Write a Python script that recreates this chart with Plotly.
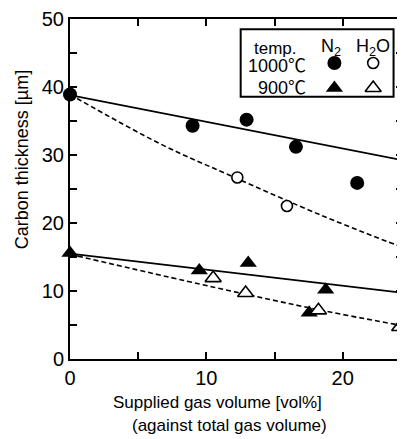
import plotly.graph_objects as go

# ---- data ----
n2_1000_x = [0, 8.99, 12.95, 16.57, 21.06]
n2_1000_y = [38.9, 34.3, 35.2, 31.2, 25.9]
h2o_1000_x = [12.27, 15.91]
h2o_1000_y = [26.7, 22.5]
n2_900_x = [0, 9.48, 13.07, 17.54, 18.75]
n2_900_y = [15.6, 13.0, 14.1, 6.8, 10.2]
h2o_900_x = [10.5, 12.88, 18.22, 24.18]
h2o_900_y = [11.9, 9.7, 7.15, 4.7]

# fitted trend lines
fit_n2_1000_x = [0, 25]
fit_n2_1000_y = [38.8, 29.0]
fit_h2o_1000_x = [0, 6.56, 11.66, 18.59, 24.42, 25]
fit_h2o_1000_y = [38.9, 31.7, 27.06, 21.0, 16.4, 16.0]
fit_n2_900_x = [0, 25]
fit_n2_900_y = [15.5, 9.6]
fit_h2o_900_x = [0, 10.45, 18.59, 24.42, 25]
fit_h2o_900_y = [15.4, 10.6, 7.1, 4.9, 4.7]

x_ticks = [0, 10, 20]
x_ticktext = ["0", "10", "20"]
y_ticks = [0, 10, 20, 30, 40, 50]
y_ticktext = ["0", "10", "20", "30", "40", "50"]

# legend key rows / columns (reference pixel positions)
legend_col_x = [336, 375]
legend_row_y = [63, 88]

FONT = "Liberation Sans, Arial, Noto Sans CJK JP, sans-serif"

# the page body has an 8px margin; compensate so the chart lands where the reference is
OFF = 8
FIG_W, FIG_H = 405 - OFF, 439 - OFF
L, T, W, H = 70, 19, 335, 340   # plot area in reference pixels

fig = go.Figure()

def line(x, y, dash):
    fig.add_trace(go.Scatter(x=x, y=y, mode="lines",
                             line=dict(color="black", width=1.8 if dash == "solid" else 1.6,
                                       dash=dash, shape="spline" if len(x) > 2 else "linear"),
                             showlegend=False, hoverinfo="skip"))

line(fit_n2_1000_x, fit_n2_1000_y, "solid")
line(fit_h2o_1000_x, fit_h2o_1000_y, "5px,3px")
line(fit_n2_900_x, fit_n2_900_y, "solid")
line(fit_h2o_900_x, fit_h2o_900_y, "5px,3px")

STY = {
    "n2_1000": dict(symbol="circle", size=14, color="black"),
    "h2o_1000": dict(symbol="circle", size=11, color="white", line=dict(color="black", width=1.6)),
    "n2_900": dict(symbol="triangle-up", size=15, color="black"),
    "h2o_900": dict(symbol="triangle-up", size=14, color="white", line=dict(color="black", width=1.6)),
}

for xs, ys, key in [(n2_1000_x, n2_1000_y, "n2_1000"), (h2o_1000_x, h2o_1000_y, "h2o_1000"),
                    (n2_900_x, n2_900_y, "n2_900"), (h2o_900_x, h2o_900_y, "h2o_900")]:
    fig.add_trace(go.Scatter(x=xs, y=ys, mode="markers", marker=STY[key],
                             showlegend=False, cliponaxis=False))

def px(x):
    return (x - L) / W
def py(y):
    return (T + H - y) / H

# legend box (below traces so the key markers show on top of it)
fig.add_shape(type="rect", xref="paper", yref="paper",
              x0=px(241.7), x1=px(395.5), y0=py(96.7), y1=py(29.3),
              line=dict(color="black", width=2), fillcolor="white", layer="below")

# legend keys on an invisible overlay axis in reference pixel units
for key, cx, cy in [("n2_1000", legend_col_x[0], legend_row_y[0]),
                    ("h2o_1000", legend_col_x[1], legend_row_y[0]),
                    ("n2_900", legend_col_x[0], legend_row_y[1]),
                    ("h2o_900", legend_col_x[1], legend_row_y[1])]:
    fig.add_trace(go.Scatter(x=[cx], y=[cy], mode="markers", marker=STY[key],
                             xaxis="x2", yaxis="y2", showlegend=False, hoverinfo="skip"))

def ann(text, x, y, size=18, xanchor="center", angle=0):
    fig.add_annotation(text=text, xref="paper", yref="paper", x=px(x), y=py(y),
                       xanchor=xanchor, yanchor="middle", showarrow=False,
                       textangle=angle, font=dict(family=FONT, size=size, color="black"))

ann("temp.", 277, 48, size=17)
ann("N<sub>2</sub>", 333, 47)
ann("H<sub>2</sub>O", 375, 47)
ann("1000℃", 309, 66, xanchor="right")
ann("900℃", 309, 88, xanchor="right")

# axis titles
ann("Supplied gas volume [vol%]", 218, 402, size=17)
ann("(against total gas volume)", 230, 425, size=17)
ann("Carbon thickness [µm]", 22, 160, size=18, angle=-90)

axis_common = dict(showline=True, linecolor="black", linewidth=2, mirror="ticks",
                   ticks="inside", ticklen=7, tickwidth=1.5, tickcolor="black",
                   showgrid=False, zeroline=False,
                   tickfont=dict(family=FONT, size=20, color="black"),
                   minor=dict(dtick=5, ticks="inside", ticklen=7, tickwidth=1.5,
                              tickcolor="black", showgrid=False))

fig.update_layout(
    xaxis=dict(range=[0, 24.42], tickmode="array", tickvals=x_ticks, ticktext=x_ticktext,
               **axis_common),
    yaxis=dict(range=[0, 50], tickmode="array", tickvals=y_ticks, ticktext=y_ticktext,
               **axis_common),
    xaxis2=dict(overlaying="x", range=[L, L + W], visible=False),
    yaxis2=dict(overlaying="y", range=[T + H, T], visible=False),
    width=FIG_W, height=FIG_H,
    margin=dict(l=L - OFF, r=0, t=T - OFF, b=FIG_H - (T - OFF) - H),
    paper_bgcolor="white", plot_bgcolor="white", showlegend=False)

fig.write_html("out.html")
